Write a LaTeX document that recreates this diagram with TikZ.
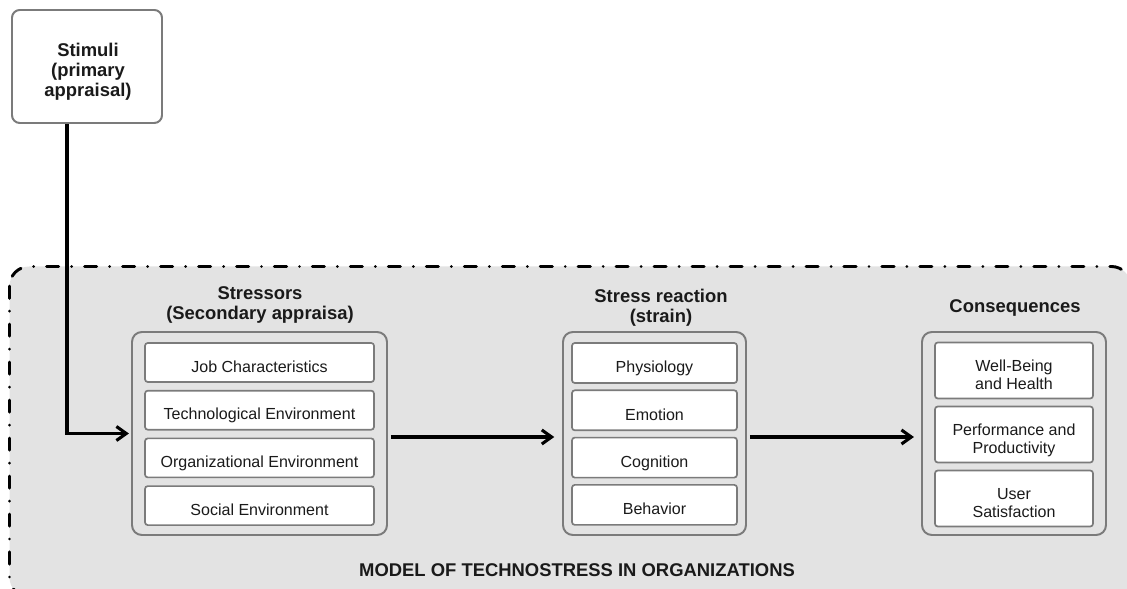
\documentclass[tikz,border=0pt]{standalone}
\usepackage{fontspec}
\setmainfont{Liberation Sans}
\usetikzlibrary{arrows.meta}

\definecolor{panelgray}{HTML}{E3E3E3}
\definecolor{edgegray}{HTML}{7B7B7B}
\definecolor{inkblack}{HTML}{1A1A1A}

% one pixel of the layout grid
\newcommand{\px}{0.025cm}
% struts keep the text a little below the box centre
\newcommand{\boxtext}[1]{\rule{0pt}{16.4pt}#1\rule[-2.5pt]{0pt}{2.5pt}}

\tikzset{
  heading/.style={align=center, text=inkblack, font=\bfseries\fontsize{13.1}{14.2}\selectfont},
  stimbox/.style={draw=edgegray, line width=1.4pt, rounded corners=5.5pt, fill=white,
    minimum width=150*\px, minimum height=113*\px},
  group/.style={draw=edgegray, line width=1.4pt, rounded corners=7pt,
    minimum width=#1*\px, minimum height=203*\px},
  item/.style 2 args={draw=edgegray, line width=1.2pt, rounded corners=2pt, fill=white,
    align=center, text=inkblack, font=\fontsize{11.4}{12.7}\selectfont, inner sep=0pt,
    minimum width=#1*\px, minimum height=#2*\px},
  flow/.style={line width=2.2pt, -{Straight Barb[length=7pt, width=10pt]}},
  frame/.style={draw, line width=2.1pt, fill=panelgray, rounded corners=14pt,
    line cap=round, dash pattern=on 8.6pt off 9.2pt on 0pt off 9.2pt}
}

\begin{document}
\begin{tikzpicture}[x=\px, y=-\px]
  \useasboundingbox (0,0) rectangle (1127,589);
  \clip (0,0) rectangle (1127,589);

  % Organisation panel
  \draw[frame] (9.5,266.5) rectangle (1131,597);
  \node[heading] (model-title) at (577,570) {MODEL OF TECHNOSTRESS IN ORGANIZATIONS};

  % Stimuli box (top left)
  \node[stimbox] (stimuli) at (87,66.5) {};
  \node[heading] (stimuli-text) at (88,71.5) {Stimuli\\(primary\\appraisal)};

  % Three stages
  \node[group=255] (stressors) at (259.5,433.5) {};
  \node[group=183] (reaction) at (654.5,433.5) {};
  \node[group=184] (consequences) at (1014,433.5) {};

  \node[heading] (stressors-title) at (260,305) {Stressors\\(Secondary appraisa)};
  \node[heading] (reaction-title) at (661,307.5) {Stress reaction\\(strain)};
  \node[heading] (consequences-title) at (1015,308) {Consequences};

  % Stage contents
  \foreach \txt [count=\i] in {Job Characteristics, Technological Environment,
      Organizational Environment, Social Environment} {
    \node[item={229}{39}] (stressor-\i) at (259.5,{362.5+47.7*(\i-1)}) {\boxtext{\txt}};
  }
  \foreach \txt [count=\i] in {Physiology, Emotion, Cognition, Behavior} {
    \node[item={165}{40}] (reaction-\i) at (654.5,{363+47.3*(\i-1)}) {\boxtext{\txt}};
  }
  \foreach \txt [count=\i] in {{Well-Being\\and Health}, {Performance and\\Productivity},
      {User\\Satisfaction}} {
    \node[item={158}{56}] (consequence-\i) at (1014,{370.5+64*(\i-1)}) {\boxtext{\txt}};
  }

  % Arrows
  \draw[flow, shorten >=1.5pt] ([xshift=-20*\px]stimuli.south) |- (stressors.west);
  \draw[flow, shorten <=2pt, shorten >=5.5pt]
    ([yshift=-3.5*\px]stressors.east) -- ([yshift=-3.5*\px]reaction.west);
  \draw[flow, shorten <=2pt, shorten >=5pt]
    ([yshift=-3.5*\px]reaction.east) -- ([yshift=-3.5*\px]consequences.west);
\end{tikzpicture}
\end{document}
